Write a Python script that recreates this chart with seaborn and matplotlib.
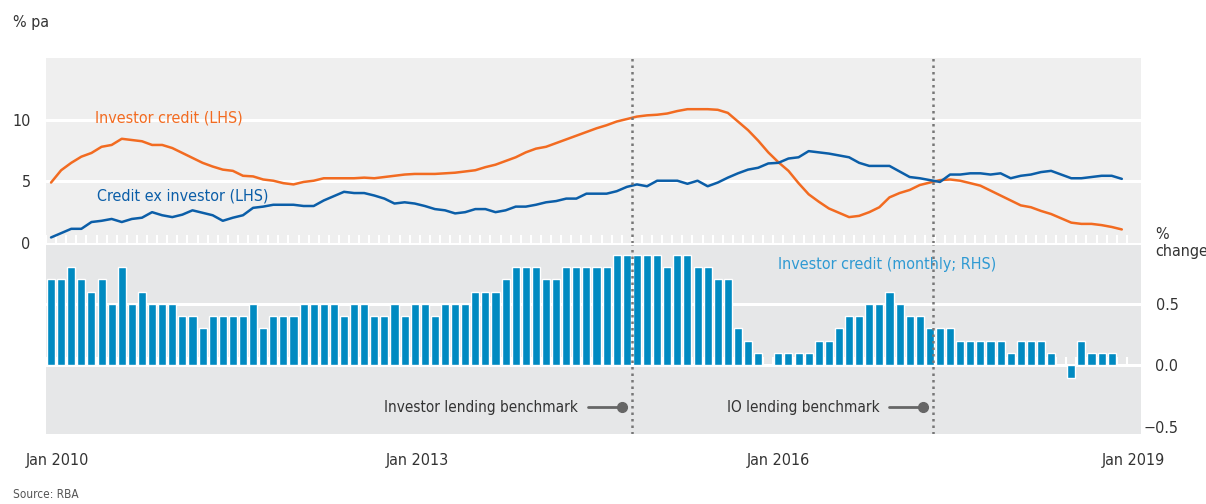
"""
Investor credit growth chart: year-ended growth (top) and monthly growth bars (bottom)
"""

import matplotlib
matplotlib.use("Agg")
import matplotlib.pyplot as plt
import matplotlib.transforms as mtransforms
from matplotlib import font_manager
import seaborn as sns
import numpy as np
import pandas as pd

# monthly data, index 0 = Jan 2010
investor_credit = [
    4.9, 5.9, 6.5, 7.0, 7.3, 7.8, 7.95, 8.45, 8.35, 8.25, 7.95, 7.95,
    7.7, 7.3, 6.9, 6.5, 6.2, 5.95, 5.85, 5.45, 5.4, 5.15, 5.05, 4.85,
    4.75, 4.95, 5.05, 5.25, 5.25, 5.25, 5.25, 5.3, 5.25, 5.35, 5.45, 5.55,
    5.6, 5.6, 5.6, 5.65, 5.7, 5.8, 5.9, 6.15, 6.35, 6.65, 6.95, 7.35,
    7.65, 7.8, 8.1, 8.4, 8.7, 9.0, 9.3, 9.55, 9.85, 10.05, 10.25, 10.35,
    10.4, 10.5, 10.7, 10.85, 10.85, 10.85, 10.8, 10.55, 9.85, 9.15, 8.3, 7.35,
    6.55, 5.85, 4.85, 3.95, 3.35, 2.8, 2.45, 2.1, 2.2, 2.5, 2.9, 3.7,
    4.05, 4.3, 4.7, 4.9, 5.1, 5.15, 5.05, 4.85, 4.65, 4.25, 3.85, 3.45,
    3.05, 2.9, 2.6, 2.35, 2.0, 1.65, 1.55, 1.55, 1.45, 1.3, 1.1,
]
credit_ex_investor = [
    0.45, 0.8, 1.15, 1.15, 1.7, 1.8, 1.95, 1.7, 1.95, 2.05, 2.5, 2.25,
    2.1, 2.3, 2.65, 2.45, 2.25, 1.8, 2.05, 2.25, 2.85, 2.95, 3.1, 3.1,
    3.1, 3.0, 3.0, 3.45, 3.8, 4.15, 4.05, 4.05, 3.85, 3.6, 3.2, 3.3,
    3.2, 3.0, 2.75, 2.65, 2.4, 2.5, 2.75, 2.75, 2.5, 2.65, 2.95, 2.95,
    3.1, 3.3, 3.4, 3.6, 3.6, 4.0, 4.0, 4.0, 4.2, 4.55, 4.75, 4.6,
    5.05, 5.05, 5.05, 4.8, 5.05, 4.6, 4.9, 5.3, 5.65, 5.95, 6.1, 6.45,
    6.5, 6.85, 6.95, 7.45, 7.35, 7.25, 7.1, 6.95, 6.5, 6.25, 6.25, 6.25,
    5.8, 5.35, 5.25, 5.1, 4.95, 5.55, 5.55, 5.65, 5.65, 5.55, 5.65, 5.25,
    5.45, 5.55, 5.75, 5.85, 5.55, 5.25, 5.25, 5.35, 5.45, 5.45, 5.2,
]
investor_monthly = [
    0.7, 0.7, 0.8, 0.7, 0.6, 0.7, 0.5, 0.8, 0.5, 0.6, 0.5, 0.5,
    0.5, 0.4, 0.4, 0.3, 0.4, 0.4, 0.4, 0.4, 0.5, 0.3, 0.4, 0.4,
    0.4, 0.5, 0.5, 0.5, 0.5, 0.4, 0.5, 0.5, 0.4, 0.4, 0.5, 0.4,
    0.5, 0.5, 0.4, 0.5, 0.5, 0.5, 0.6, 0.6, 0.6, 0.7, 0.8, 0.8,
    0.8, 0.7, 0.7, 0.8, 0.8, 0.8, 0.8, 0.8, 0.9, 0.9, 0.9, 0.9,
    0.9, 0.8, 0.9, 0.9, 0.8, 0.8, 0.7, 0.7, 0.3, 0.2, 0.1, 0.0,
    0.1, 0.1, 0.1, 0.1, 0.2, 0.2, 0.3, 0.4, 0.4, 0.5, 0.5, 0.6,
    0.5, 0.4, 0.4, 0.3, 0.3, 0.3, 0.2, 0.2, 0.2, 0.2, 0.2, 0.1,
    0.2, 0.2, 0.2, 0.1, 0.0, -0.1, 0.2, 0.1, 0.1, 0.1, 0.0,
]
year_labels = ['Jan 2010', 'Jan 2013', 'Jan 2016', 'Jan 2019']
year_label_pos = [0.6, 36.3, 72.0, 107.1]
# Dec 2014 investor benchmark, Mar 2017 interest-only benchmark
event_months = [57.5, 87.3]
event_labels = ['Investor lending benchmark', 'IO lending benchmark']

ORANGE = '#f26b21'
BLUE = '#0b5ea8'
BAR_BLUE = '#008ac1'
LABEL_BLUE = '#2f9ad3'
TEXT = '#333333'

sns.set_style("white")

# the original uses a condensed sans; pick the narrowest one that is installed
fonts = {(f.name, f.stretch) for f in font_manager.fontManager.ttflist}
if any(n == 'Liberation Sans Narrow' for n, _ in fonts):
    plt.rcParams['font.family'] = ['Liberation Sans Narrow', 'DejaVu Sans']
    FS = 12
elif ('DejaVu Sans', 'condensed') in fonts or ('DejaVu Sans', 'semi-condensed') in fonts:
    plt.rcParams['font.family'] = ['DejaVu Sans']
    plt.rcParams['font.stretch'] = 'condensed'
    FS = 11.5
else:
    plt.rcParams['font.family'] = ['Liberation Sans', 'DejaVu Sans']
    FS = 11

df = pd.DataFrame({
    'month': np.arange(len(investor_credit)),
    'investor': investor_credit,
    'ex_investor': credit_ex_investor,
    'monthly': investor_monthly,
})

W, H = 1206, 504
fig = plt.figure(figsize=(W / 100, H / 100), dpi=100)


def px_axes(left, top, right, bottom):
    return fig.add_axes([left / W, 1 - bottom / H, (right - left) / W, (bottom - top) / H])


ax_top = px_axes(46, 58, 1141, 243)
ax_bot = px_axes(46, 245, 1141, 434)

# --- top panel: year-ended growth
sns.lineplot(data=df, x='month', y='investor', ax=ax_top, color=ORANGE, lw=1.8)
sns.lineplot(data=df, x='month', y='ex_investor', ax=ax_top, color=BLUE, lw=1.8)
ax_top.set_facecolor('#efefef')
ax_top.set_ylim(0, 15)
ax_top.set_yticks([0, 5, 10])
ax_top.set_yticklabels(['0', '5', '10'])
for v in [5, 10]:
    ax_top.axhline(v, color='white', lw=2.2, zorder=0.5)
ax_top.text(4.4, 10.15, 'Investor credit (LHS)', color=ORANGE, fontsize=FS, va='center')
ax_top.text(4.5, 3.85, 'Credit ex investor (LHS)', color=BLUE, fontsize=FS, va='center')

# --- bottom panel: monthly growth
sns.barplot(data=df, x='month', y='monthly', ax=ax_bot, native_scale=True,
            color=BAR_BLUE, saturation=1, width=0.8, errorbar=None, zorder=2)
ax_bot.set_facecolor('#e6e7e8')
ax_bot.set_ylim(-0.56, 0.98)
for v in [0, 0.5]:
    ax_bot.axhline(v, color='white', lw=2.2, zorder=0.5)
ax_bot.yaxis.tick_right()
ax_bot.set_yticks([-0.5, 0, 0.5])
ax_bot.set_yticklabels(['\u22120.5', '0.0', '0.5'])
ax_bot.spines['bottom'].set_position(('data', 0))
ax_bot.text(72.0, 0.76, 'Investor credit (monthly; RHS)', color=LABEL_BLUE,
            fontsize=FS, va='bottom')

for ax in (ax_top, ax_bot):
    ax.set_xlim(-0.5, 107.9)
    ax.set_xlabel('')
    ax.set_ylabel('')
    for s in ax.spines.values():
        s.set_visible(False)
    ax.set_xticks([])
    ax.set_xticks(np.arange(len(investor_credit) + 1) - 0.5, minor=True)
    ax.tick_params(axis='x', which='minor', direction='in', length=5.5, width=1.5,
                   color='white', bottom=True)
    ax.tick_params(axis='y', length=0, labelsize=FS, labelcolor=TEXT)
    for e in event_months:
        ax.axvline(e, color='#777777', ls=(0, (1, 1.6)), lw=1.8, zorder=3)

ax_top.tick_params(axis='y', pad=11)
ax_bot.tick_params(axis='y', pad=27)
for lab in ax_bot.get_yticklabels():
    lab.set_horizontalalignment('right')

# benchmark annotations
for e, lab in zip(event_months, event_labels):
    ax_bot.plot([e - 4.3, e - 1.0], [-0.34, -0.34], color='#666666', lw=2, zorder=4)
    ax_bot.plot([e - 1.0], [-0.34], 'o', ms=7, color='#666666', zorder=4)
    ax_bot.text(e - 5.3, -0.34, lab, ha='right', va='center', fontsize=FS - 0.5, color=TEXT)

# x labels
trans = mtransforms.blended_transform_factory(ax_bot.transData, fig.transFigure)
for pos, lab in zip(year_label_pos, year_labels):
    ax_bot.text(pos, 1 - 461 / H, lab, transform=trans, ha='center', va='center',
                fontsize=FS, color=TEXT)

fig.text(13 / W, 1 - 22 / H, '% pa', ha='left', va='center', fontsize=FS, color=TEXT)
fig.text(1155 / W, 1 - 243 / H, '%\nchange', ha='left', va='center', fontsize=FS,
         color=TEXT, linespacing=1.15)
fig.text(13 / W, 1 - 494 / H, 'Source: RBA', ha='left', va='center', fontsize=FS - 3,
         color='#555555')

fig.savefig('out.png', dpi=100)
